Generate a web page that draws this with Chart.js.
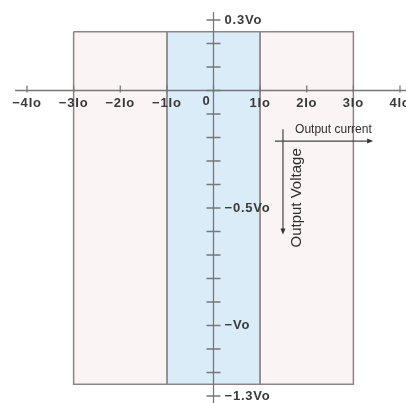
<!DOCTYPE html>
<html>
<head>
<meta charset="utf-8">
<script src="https://cdn.jsdelivr.net/npm/chart.js@4.4.1/dist/chart.umd.min.js"></script>
<style>
  html, body { margin: 0; padding: 0; background: #fff; }
  #wrap { width: 406px; height: 403px; }
</style>
</head>
<body>
<div id="wrap"><canvas id="myChart" width="406" height="403"></canvas></div>
<script>
// axis ticks (current in Io, voltage in Vo)
const currentTicks = [-4, -3, -2, -1, 0, 1, 2, 3, 4];
const currentLabels = ['−4Io', '−3Io', '−2Io', '−1Io', '0', '1Io', '2Io', '3Io', '4Io'];
const voltageTicks = [0.3, 0.2, 0.1, 0, -0.1, -0.2, -0.3, -0.4, -0.5, -0.6, -0.7, -0.8, -0.9, -1.0, -1.1, -1.2, -1.3];
const voltageLabelValues = [0.3, -0.5, -1, -1.3];
const voltageLabels = ['0.3Vo', '−0.5Vo', '−Vo', '−1.3Vo'];

// operating regions
const outerBands = [[-3, -1], [1, 3]];
const innerBand = [-1, 1];
const bandTop = 0.25;
const bandBottom = -1.25;

function rectPoints(x0, x1) {
  return [
    {x: x0, y: bandTop}, {x: x1, y: bandTop},
    {x: x1, y: bandBottom}, {x: x0, y: bandBottom},
    {x: x0, y: bandTop},
  ];
}

const bandStyle = {
  showLine: true,
  fill: 'shape',
  pointRadius: 0,
  borderWidth: 1.5,
  borderColor: '#8d8585',
  tension: 0,
};

const datasets = outerBands.map((b) => Object.assign({
  data: rectPoints(b[0], b[1]),
  backgroundColor: '#faf4f4',
}, bandStyle));
datasets.push(Object.assign({
  data: rectPoints(innerBand[0], innerBand[1]),
  backgroundColor: '#daecf8',
}, bandStyle));

const FONT = '12px "Liberation Sans", Arial, sans-serif';
const BOLD = 'bold 13px "Liberation Sans", Arial, sans-serif';

const centerAxes = {
  id: 'center_axes',
  afterDatasetsDraw: (chart) => {
    const ctx = chart.ctx;
    const xs = chart.scales.x;
    const ys = chart.scales.y;
    const x0 = xs.getPixelForValue(0);
    const y0 = ys.getPixelForValue(0);
    ctx.save();
    ctx.strokeStyle = '#777';
    ctx.lineWidth = 1.3;
    // axis lines
    ctx.beginPath();
    ctx.moveTo(xs.getPixelForValue(-4) - 12, y0);
    ctx.lineTo(chart.width, y0);
    ctx.moveTo(x0, ys.getPixelForValue(0.3) - 8);
    ctx.lineTo(x0, chart.height);
    ctx.stroke();
    // tick marks
    ctx.beginPath();
    currentTicks.forEach((v) => {
      const px = xs.getPixelForValue(v);
      ctx.moveTo(px, y0 - 5);
      ctx.lineTo(px, y0 + 2);
    });
    voltageTicks.forEach((v) => {
      const py = ys.getPixelForValue(v);
      ctx.moveTo(x0 - 7, py);
      ctx.lineTo(x0 + 7, py);
    });
    ctx.stroke();

    // tick labels
    ctx.fillStyle = '#3a3a3a';
    ctx.font = BOLD;
    ctx.letterSpacing = '0.8px';
    ctx.textBaseline = 'middle';
    ctx.textAlign = 'center';
    currentTicks.forEach((v, i) => {
      const px = xs.getPixelForValue(v);
      if (v === 0) {
        ctx.fillText(currentLabels[i], px - 7, y0 + 11);
      } else {
        ctx.fillText(currentLabels[i], px, y0 + 13);
      }
    });
    ctx.textAlign = 'left';
    voltageLabelValues.forEach((v, i) => {
      ctx.fillText(voltageLabels[i], x0 + 11, ys.getPixelForValue(v));
    });
    ctx.letterSpacing = '0px';

    // axis titles with arrows
    const ax = (v) => xs.getPixelForValue(v);
    const ay = (v) => ys.getPixelForValue(v);
    ctx.strokeStyle = '#444';
    ctx.lineWidth = 1.2;
    ctx.beginPath();
    ctx.moveTo(ax(1.32), ay(-0.215));
    ctx.lineTo(ax(3.36), ay(-0.215));
    ctx.moveTo(ax(1.49), ay(-0.165));
    ctx.lineTo(ax(1.49), ay(-0.6));
    ctx.stroke();
    ctx.fillStyle = '#333';
    ctx.beginPath();
    ctx.moveTo(ax(3.36) + 3, ay(-0.215));
    ctx.lineTo(ax(3.36) - 3, ay(-0.215) - 2.5);
    ctx.lineTo(ax(3.36) - 3, ay(-0.215) + 2.5);
    ctx.closePath();
    ctx.moveTo(ax(1.49), ay(-0.6) + 3);
    ctx.lineTo(ax(1.49) - 2.5, ay(-0.6) - 3);
    ctx.lineTo(ax(1.49) + 2.5, ay(-0.6) - 3);
    ctx.closePath();
    ctx.fill();

    ctx.fillStyle = '#2e2e2e';
    ctx.font = FONT;
    ctx.textAlign = 'left';
    ctx.fillText('Output current', ax(1.75), ay(-0.168));
    ctx.save();
    ctx.translate(ax(1.79), ay(-0.457));
    ctx.rotate(-Math.PI / 2);
    ctx.textAlign = 'center';
    ctx.font = '15px "Liberation Sans", Arial, sans-serif';
    ctx.fillText('Output Voltage', 0, 0);
    ctx.restore();
    ctx.restore();
  },
};

const ctx = document.getElementById('myChart').getContext('2d');
new Chart(ctx, {
  type: 'scatter',
  data: {datasets: datasets},
  options: {
    responsive: false,
    animation: false,
    layout: {padding: {left: 27, right: 6, top: 20, bottom: 7}},
    scales: {
      x: {type: 'linear', min: -4, max: 4, display: false},
      y: {type: 'linear', min: -1.3, max: 0.3, display: false},
    },
    plugins: {
      legend: {display: false},
      tooltip: {enabled: false},
    },
  },
  plugins: [centerAxes],
});
</script>
</body>
</html>
